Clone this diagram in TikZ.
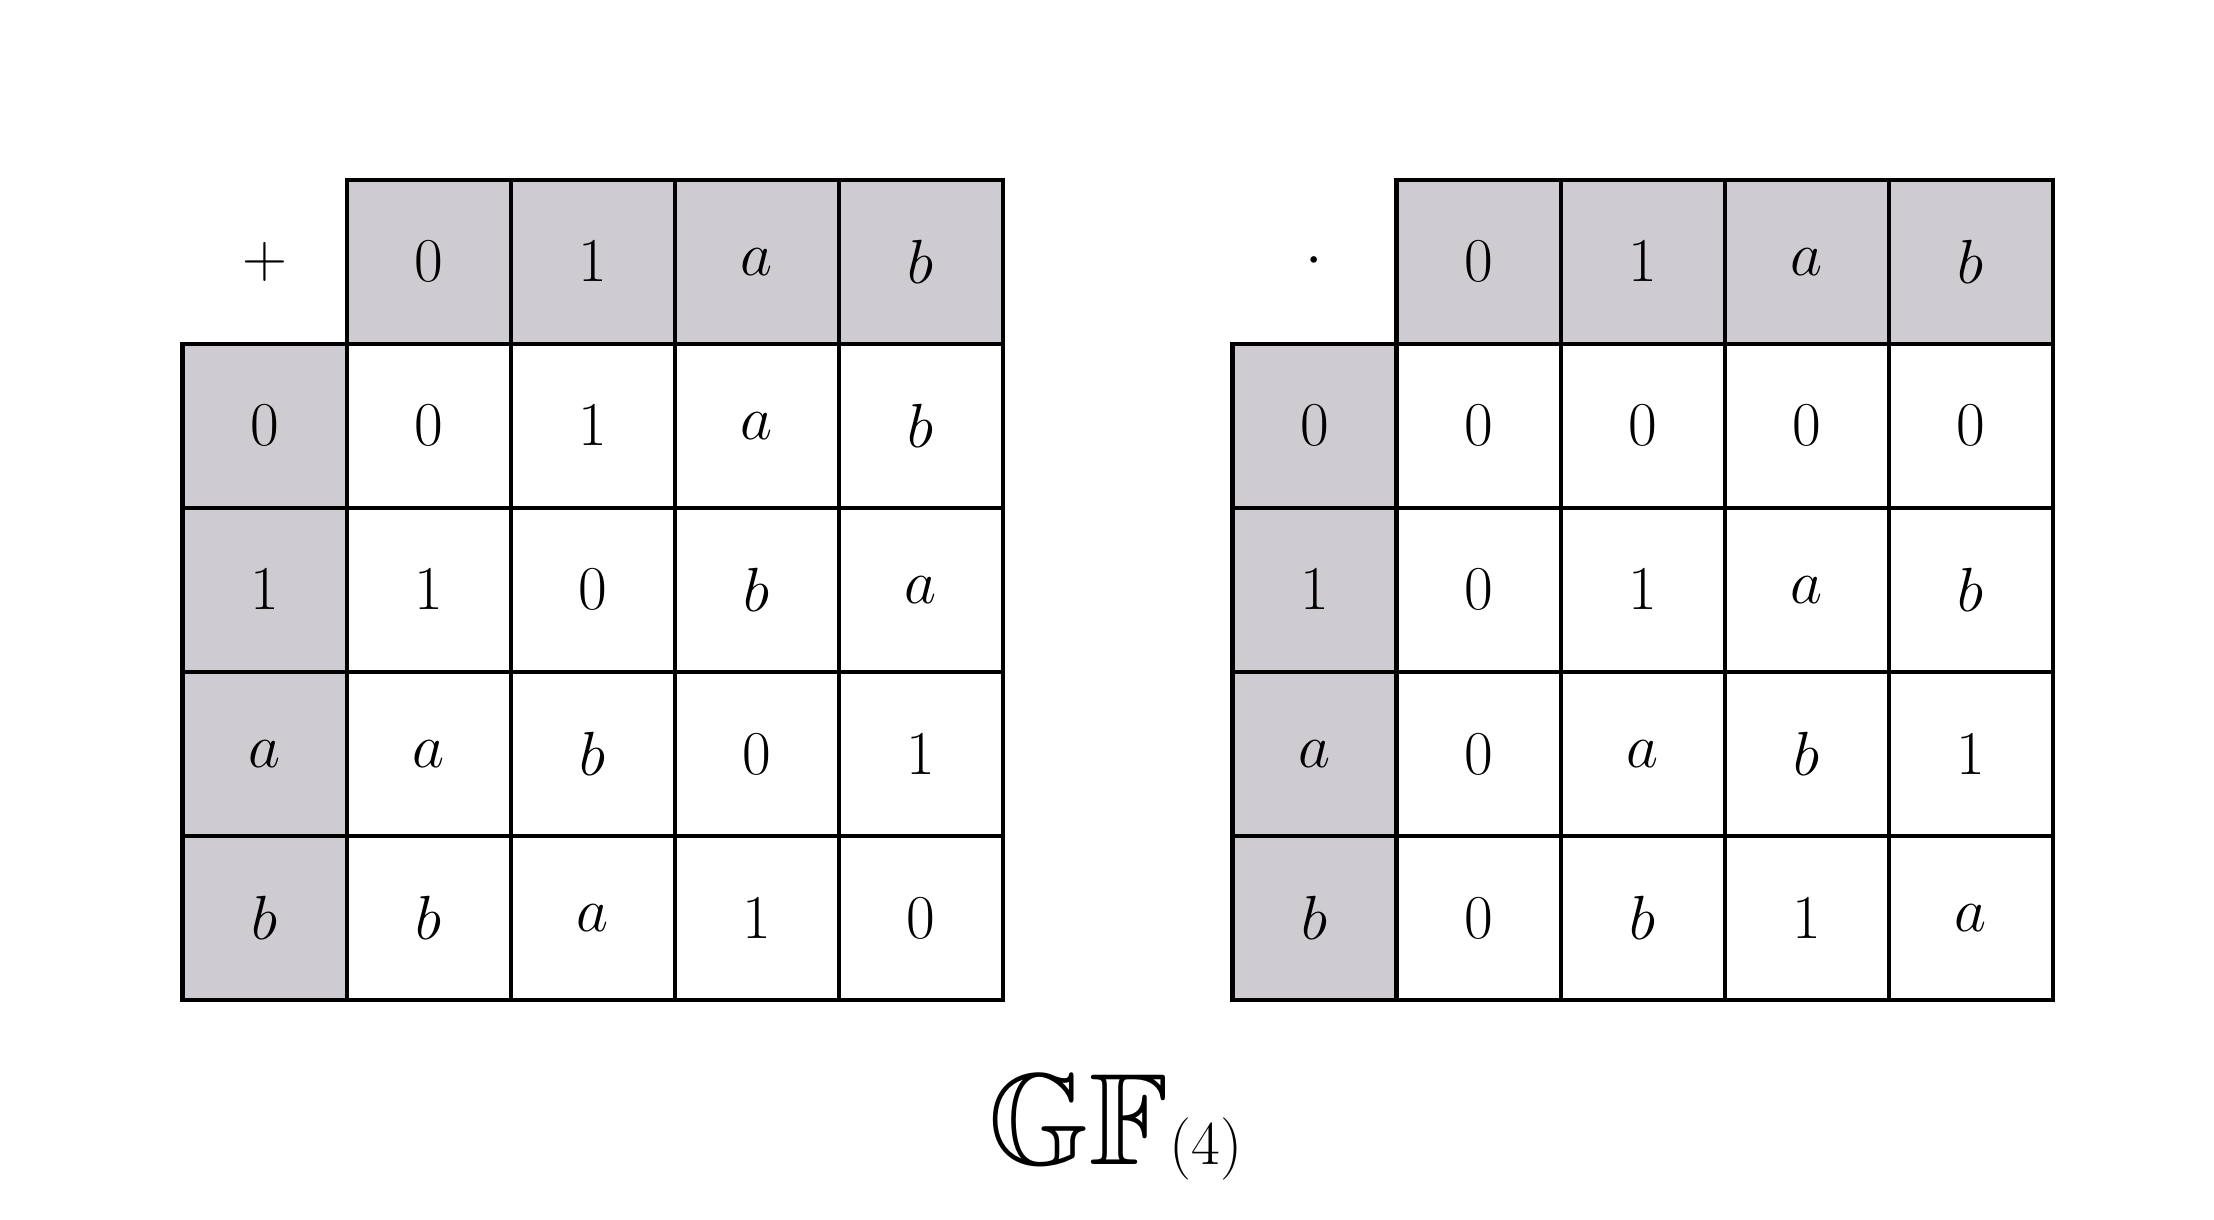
\documentclass[tikz,border=0pt]{standalone}
\usepackage{amssymb}
\definecolor{hd}{RGB}{206,204,208}
\begin{document}
\begin{tikzpicture}[x=0.02cm,y=-0.02cm,
  cell/.style={draw=black,line width=1.7pt,minimum size=2.3cm,inner sep=0pt,font=\fontsize{52}{60}\selectfont},
  head/.style={cell,fill=hd},
  op/.style={inner sep=0pt,font=\fontsize{52}{60}\selectfont}]
\useasboundingbox (0,0) rectangle (1552,855);
% left table
\node[op] (lop) at (185.5,183.5) {$+$};
\foreach \t [count=\i] in {0,1,a,b}{
  \node[head] (lh\i) at (185.5+115*\i,183.5) {$\t$};
  \node[head] (lr\i) at (185.5,183.5+115*\i) {$\t$};
}
\foreach \row [count=\j] in {{0,1,a,b},{1,0,b,a},{a,b,0,1},{b,a,1,0}}{
  \foreach \t [count=\i] in \row {
    \node[cell] (l\j\i) at (185.5+115*\i,183.5+115*\j) {$\t$};
  }
}
% right table
\node[op] (rop) at (921.5,183.5) {$\cdot$};
\foreach \t [count=\i] in {0,1,a,b}{
  \node[head] (rh\i) at (921.5+115*\i,183.5) {$\t$};
  \node[head] (rr\i) at (921.5,183.5+115*\i) {$\t$};
}
\foreach \row [count=\j] in {{0,0,0,0},{0,1,a,b},{0,a,b,1},{0,b,1,a}}{
  \foreach \t [count=\i] in \row {
    \node[cell] (r\j\i) at (921.5+115*\i,183.5+115*\j) {$\t$};
  }
}
\node[op] (title) at (782,790) {$\mathbb{GF}(4)$};
\end{tikzpicture}
\end{document}
